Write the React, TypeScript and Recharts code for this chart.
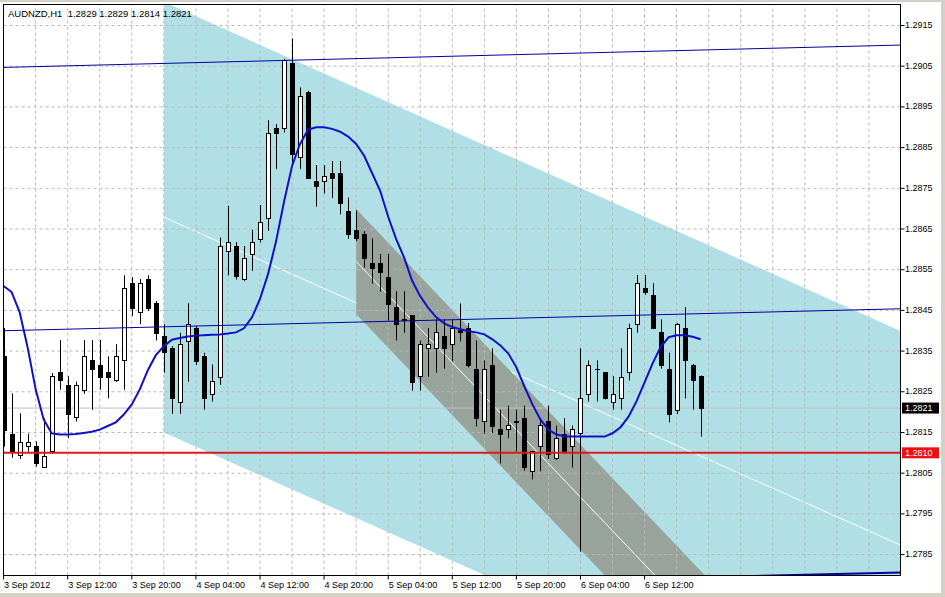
import React from 'react';
import { ComposedChart, XAxis, YAxis, Area, Bar, Line, ReferenceLine } from 'recharts';

// ---------- DATA ----------
const opens = [1.28338,1.28147,1.28095,1.28117,1.28118,1.28066,1.28105,1.28298,1.28267,1.28187,1.28255,1.28328,1.28317,1.28298,1.28278,1.28327,1.28517,1.28447,1.28526,1.28467,1.28386,1.28357,1.28226,1.28376,1.28407,1.28338,1.28244,1.28287,1.28596,1.28608,1.28526,1.28588,1.28626,1.28676,1.28899,1.28898,1.29059,1.28826,1.28987,1.28768,1.28767,1.28787,1.28787,1.28695,1.28647,1.28637,1.28567,1.28567,1.28533,1.28458,1.28428,1.28438,1.28288,1.28357,1.28357,1.28387,1.28367,1.28402,1.28406,1.28307,1.28177,1.28317,1.28158,1.28158,1.28177,1.28185,1.28056,1.28118,1.28177,1.28087,1.28147,1.28118,1.28148,1.28245,1.28307,1.28298,1.28226,1.28234,1.28298,1.28416,1.28505,1.28488,1.28397,1.28307,1.28206,1.28406,1.28317,1.2829];
const highs = [1.28407,1.28246,1.28197,1.28147,1.28128,1.28185,1.28296,1.28377,1.28288,1.28275,1.28377,1.28377,1.28377,1.28337,1.28367,1.28536,1.28532,1.28527,1.28536,1.28473,1.28416,1.28362,1.28395,1.28468,1.28412,1.28346,1.28317,1.28629,1.28707,1.28618,1.28608,1.28648,1.28709,1.28917,1.28908,1.29068,1.29118,1.28998,1.2899,1.28807,1.28807,1.28817,1.28817,1.28727,1.28696,1.28645,1.28627,1.28589,1.28589,1.28497,1.28497,1.28438,1.28376,1.28407,1.28428,1.28428,1.28428,1.28467,1.28419,1.28376,1.28327,1.28357,1.28206,1.28216,1.28206,1.28216,1.28105,1.28185,1.28216,1.28167,1.28185,1.28167,1.28357,1.28327,1.28327,1.28298,1.28288,1.28357,1.28417,1.28537,1.28537,1.28517,1.28428,1.28346,1.28419,1.28458,1.28318,1.2829];
const lows = [1.28115,1.28088,1.28085,1.28103,1.28066,1.28065,1.28098,1.28255,1.28136,1.28177,1.28245,1.28206,1.28255,1.28234,1.28274,1.28255,1.28436,1.28416,1.28449,1.28376,1.28297,1.28196,1.28196,1.28275,1.28316,1.28206,1.28226,1.28267,1.28536,1.28526,1.28522,1.28547,1.28617,1.28645,1.28797,1.28887,1.28805,1.28797,1.28774,1.28705,1.28737,1.28726,1.28686,1.28626,1.2862,1.28555,1.28516,1.28496,1.28425,1.28376,1.28395,1.28253,1.28253,1.28287,1.28297,1.28307,1.28325,1.28374,1.2831,1.28165,1.28147,1.28149,1.28074,1.28136,1.28103,1.28056,1.28035,1.28055,1.28085,1.28083,1.28098,1.28064,1.27857,1.28226,1.28226,1.28231,1.28206,1.28206,1.28278,1.28395,1.28488,1.28404,1.28307,1.28175,1.28195,1.28234,1.28206,1.2814];
const closes = [1.28157,1.28105,1.28127,1.28127,1.28074,1.28091,1.28288,1.28278,1.28195,1.28267,1.28337,1.28306,1.28286,1.28287,1.28337,1.28506,1.28457,1.28517,1.28457,1.28395,1.28348,1.28234,1.28367,1.28416,1.28325,1.28234,1.28276,1.28608,1.28618,1.28534,1.28578,1.28618,1.28667,1.28887,1.28887,1.29066,1.28835,1.28977,1.28776,1.28756,1.28779,1.28776,1.28715,1.28637,1.28627,1.28578,1.28555,1.28545,1.28466,1.28416,1.28427,1.28275,1.28367,1.28367,1.28397,1.28357,1.28407,1.28397,1.28317,1.28185,1.28307,1.28165,1.28147,1.28168,1.28176,1.28064,1.28105,1.28168,1.28097,1.28136,1.28105,1.28158,1.28234,1.28317,1.28306,1.28234,1.28244,1.28287,1.28406,1.28517,1.28496,1.28406,1.28317,1.28195,1.28416,1.28327,1.28278,1.2821];
const maValues = [1.2851,1.28495,1.28446,1.28359,1.28256,1.28182,1.28148,1.28145,1.28145,1.28146,1.28149,1.28152,1.28157,1.28166,1.28175,1.28194,1.28219,1.28256,1.28303,1.2834,1.28362,1.28378,1.28382,1.28386,1.28388,1.28389,1.2839,1.28391,1.28393,1.28396,1.28406,1.28433,1.28478,1.28539,1.28619,1.28717,1.28805,1.28859,1.28894,1.289,1.289,1.28896,1.28889,1.28877,1.28859,1.2883,1.28787,1.28744,1.2868,1.28625,1.28579,1.28522,1.28485,1.28456,1.28433,1.28418,1.28409,1.28404,1.28399,1.28396,1.28391,1.28379,1.28364,1.28344,1.2831,1.28263,1.28219,1.28182,1.28157,1.28145,1.28141,1.2814,1.2814,1.2814,1.2814,1.2814,1.28148,1.28163,1.28189,1.28227,1.28273,1.2832,1.2836,1.28384,1.28389,1.28389,1.28385,1.28379];

const xTicks = [0, 8, 16, 24, 32, 40, 48, 56, 64, 72, 80];
const xTickLabels = ['3 Sep 2012', '3 Sep 12:00', '3 Sep 20:00', '4 Sep 04:00', '4 Sep 12:00', '4 Sep 20:00', '5 Sep 04:00', '5 Sep 12:00', '5 Sep 20:00', '6 Sep 04:00', '6 Sep 12:00'];
const xGrid = [4, 8, 12, 16, 20, 24, 28, 32, 36, 40, 44, 48, 52, 56, 60, 64, 68, 72, 76, 80, 84, 88, 92, 96, 100, 104, 108];
const yTicks = [1.2785, 1.2795, 1.2805, 1.2815, 1.2825, 1.2835, 1.2845, 1.2855, 1.2865, 1.2875, 1.2885, 1.2895, 1.2905, 1.2915];

// regression channels: [bar, lower, upper]
const blueChannel = [
  { i: 20, v: [1.2815, 1.29208] },
  { i: 112, v: [1.27345, 1.28399] },
];
const blueMid = [{ i: 20, p: 1.28679 }, { i: 112, p: 1.27873 }];
const grayChannel = [
  { i: 44, v: [1.28441, 1.28699] },
  { i: 112, v: [1.27034, 1.27293] },
];
const grayMid = [{ i: 44, p: 1.2857 }, { i: 112, p: 1.27164 }];
// equidistant trend channel lines
const trendA = [{ i: -0.0125, p: 1.29047 }, { i: 112, p: 1.29102 }];
const trendB = [{ i: -0.0125, p: 1.284 }, { i: 112, p: 1.28454 }];
const trendC = [{ i: -0.0125, p: 1.27753 }, { i: 112, p: 1.27806 }];
const bidPrice = 1.2821;
const redLevel = 1.281;
const title = 'AUDNZD,H1  1.2829 1.2829 1.2814 1.2821';

const chartData = opens.map((o, i) => ({ i, o, h: highs[i], l: lows[i], c: closes[i], ma: maValues[i] }));

const FONT = '"Liberation Sans", Arial, sans-serif';

const Candle = (props: any) => {
  const { x, y, width, height, payload } = props;
  if (payload == null || y == null) return null;
  const top = height >= 0 ? y : y + height;
  const hh = Math.abs(height);
  const { o, h, l, c } = payload;
  const span = h - l;
  const py = (p: number) => (span > 0 ? top + ((h - p) / span) * hh : top);
  const cx = Math.floor(x + width / 2) + 0.5;
  const bTop = Math.round(py(Math.max(o, c)));
  const bBot = Math.round(py(Math.min(o, c)));
  const bull = c >= o;
  return (
    <g>
      <line x1={cx} x2={cx} y1={top} y2={top + hh} stroke="#000" strokeWidth={1} />
      {bBot - bTop < 1 ? (
        <line x1={cx - 2.5} x2={cx + 2.5} y1={bTop + 0.5} y2={bTop + 0.5} stroke="#000" strokeWidth={1} />
      ) : (
        <rect x={cx - 2} y={bTop + 0.5} width={4} height={bBot - bTop} fill={bull ? '#fff' : '#000'} stroke="#000" strokeWidth={1} />
      )}
    </g>
  );
};

const XTick = (props: any) => {
  const { x, payload } = props;
  const idx = xTicks.indexOf(payload.value);
  return (
    <text x={x + 0.5} y={588} fontFamily={FONT} fontSize={9} fill="#000" textAnchor="start">
      {xTickLabels[idx]}
    </text>
  );
};

const YTick = (props: any) => {
  const { y, payload } = props;
  return (
    <text x={905} y={y + 2.6} fontFamily={FONT} fontSize={9} fill="#000" textAnchor="start">
      {Number(payload.value).toFixed(4)}
    </text>
  );
};

const PriceTag = (props: any) => {
  const { viewBox, bg, text } = props;
  if (!viewBox) return null;
  const x = viewBox.x + viewBox.width + 1.5;
  const y = viewBox.y;
  return (
    <g>
      <rect x={x} y={y - 5.5} width={37} height={11} fill={bg} />
      <text x={x + 3} y={y + 3.2} fontFamily={FONT} fontSize={9} fill="#fff">
        {text}
      </text>
    </g>
  );
};

export default function App() {
  return (
    <div style={{ position: 'fixed', left: 0, top: 0, width: 945, height: 597, background: '#fff', overflow: 'hidden' }}>
      <ComposedChart width={945} height={597} data={chartData} margin={{ top: 4.5, right: 0, bottom: 0, left: 3.5 }}>
        <XAxis
          dataKey="i"
          type="number"
          domain={[-0.0125, 111.94]}
          allowDataOverflow
          ticks={xTicks}
          interval={0}
          tickSize={4}
          height={21.5}
          axisLine={{ stroke: '#000' }}
          tickLine={{ stroke: '#000' }}
          tick={<XTick />}
        />
        <YAxis
          orientation="right"
          type="number"
          domain={[1.277986, 1.292016]}
          allowDataOverflow
          ticks={yTicks}
          interval={0}
          tickSize={4}
          width={44.5}
          axisLine={{ stroke: '#000' }}
          tickLine={{ stroke: '#000' }}
          tick={<YTick />}
        />
        <Area data={blueChannel} dataKey="v" type="linear" fill="#B0E0E6" fillOpacity={1} stroke="none" isAnimationActive={false} zIndex={100} />
        <ReferenceLine segment={[{ x: blueMid[0].i, y: blueMid[0].p }, { x: blueMid[1].i, y: blueMid[1].p }]} stroke="#ffffff" strokeWidth={1} ifOverflow="hidden" zIndex={105} />
        <Area data={grayChannel} dataKey="v" type="linear" fill="#98A39C" fillOpacity={1} stroke="none" isAnimationActive={false} zIndex={110} />
        <ReferenceLine segment={[{ x: grayMid[0].i, y: grayMid[0].p }, { x: grayMid[1].i, y: grayMid[1].p }]} stroke="#ffffff" strokeWidth={1} ifOverflow="hidden" zIndex={115} />
        {xGrid.map((g) => (
          <ReferenceLine key={'gx' + g} x={g} stroke="#B8B8B8" strokeDasharray="3 3" strokeWidth={1} ifOverflow="hidden" zIndex={120} />
        ))}
        {yTicks.map((t) => (
          <ReferenceLine key={'gy' + t} y={t} stroke="#B8B8B8" strokeDasharray="3 3" strokeWidth={1} ifOverflow="hidden" zIndex={120} />
        ))}
        <ReferenceLine y={bidPrice} stroke="#C0C0C0" strokeWidth={1} ifOverflow="hidden" zIndex={125} label={<PriceTag bg="#000" text={bidPrice.toFixed(4)} />} />
        <Bar dataKey={(d: any) => [d.l, d.h]} barSize={5} shape={(p: any) => <Candle {...p} />} isAnimationActive={false} zIndex={300} />
        <ReferenceLine segment={[{ x: trendA[0].i, y: trendA[0].p }, { x: trendA[1].i, y: trendA[1].p }]} stroke="#0000A0" strokeWidth={1} ifOverflow="hidden" zIndex={350} />
        <ReferenceLine segment={[{ x: trendB[0].i, y: trendB[0].p }, { x: trendB[1].i, y: trendB[1].p }]} stroke="#0000A0" strokeWidth={1} ifOverflow="hidden" zIndex={350} />
        <ReferenceLine segment={[{ x: trendC[0].i, y: trendC[0].p }, { x: trendC[1].i, y: trendC[1].p }]} stroke="#0000A0" strokeWidth={2} ifOverflow="hidden" zIndex={350} />
        <ReferenceLine y={redLevel} stroke="#E01818" strokeWidth={2} ifOverflow="hidden" zIndex={360} label={<PriceTag bg="#F01010" text={redLevel.toFixed(4)} />} />
        <Line dataKey="ma" type="linear" stroke="#1010C8" strokeWidth={2} dot={false} isAnimationActive={false} zIndex={400} />
      </ComposedChart>
      <div style={{ position: 'absolute', left: 3, top: 4, width: 898, height: 572, border: '1px solid #000', boxSizing: 'border-box', pointerEvents: 'none' }} />
      <div style={{ position: 'absolute', left: 8, top: 8, fontFamily: FONT, fontSize: 9.5, lineHeight: '11px', color: '#000', whiteSpace: 'pre' }}>{title}</div>
      <div style={{ position: 'absolute', left: 0, top: 0, width: 945, height: 2, background: '#D4D0C8' }} />
      <div style={{ position: 'absolute', left: 941, top: 0, width: 4, height: 597, background: '#D4D0C8' }} />
      <div style={{ position: 'absolute', left: 0, top: 593, width: 945, height: 4, background: '#D4D0C8' }} />
    </div>
  );
}
